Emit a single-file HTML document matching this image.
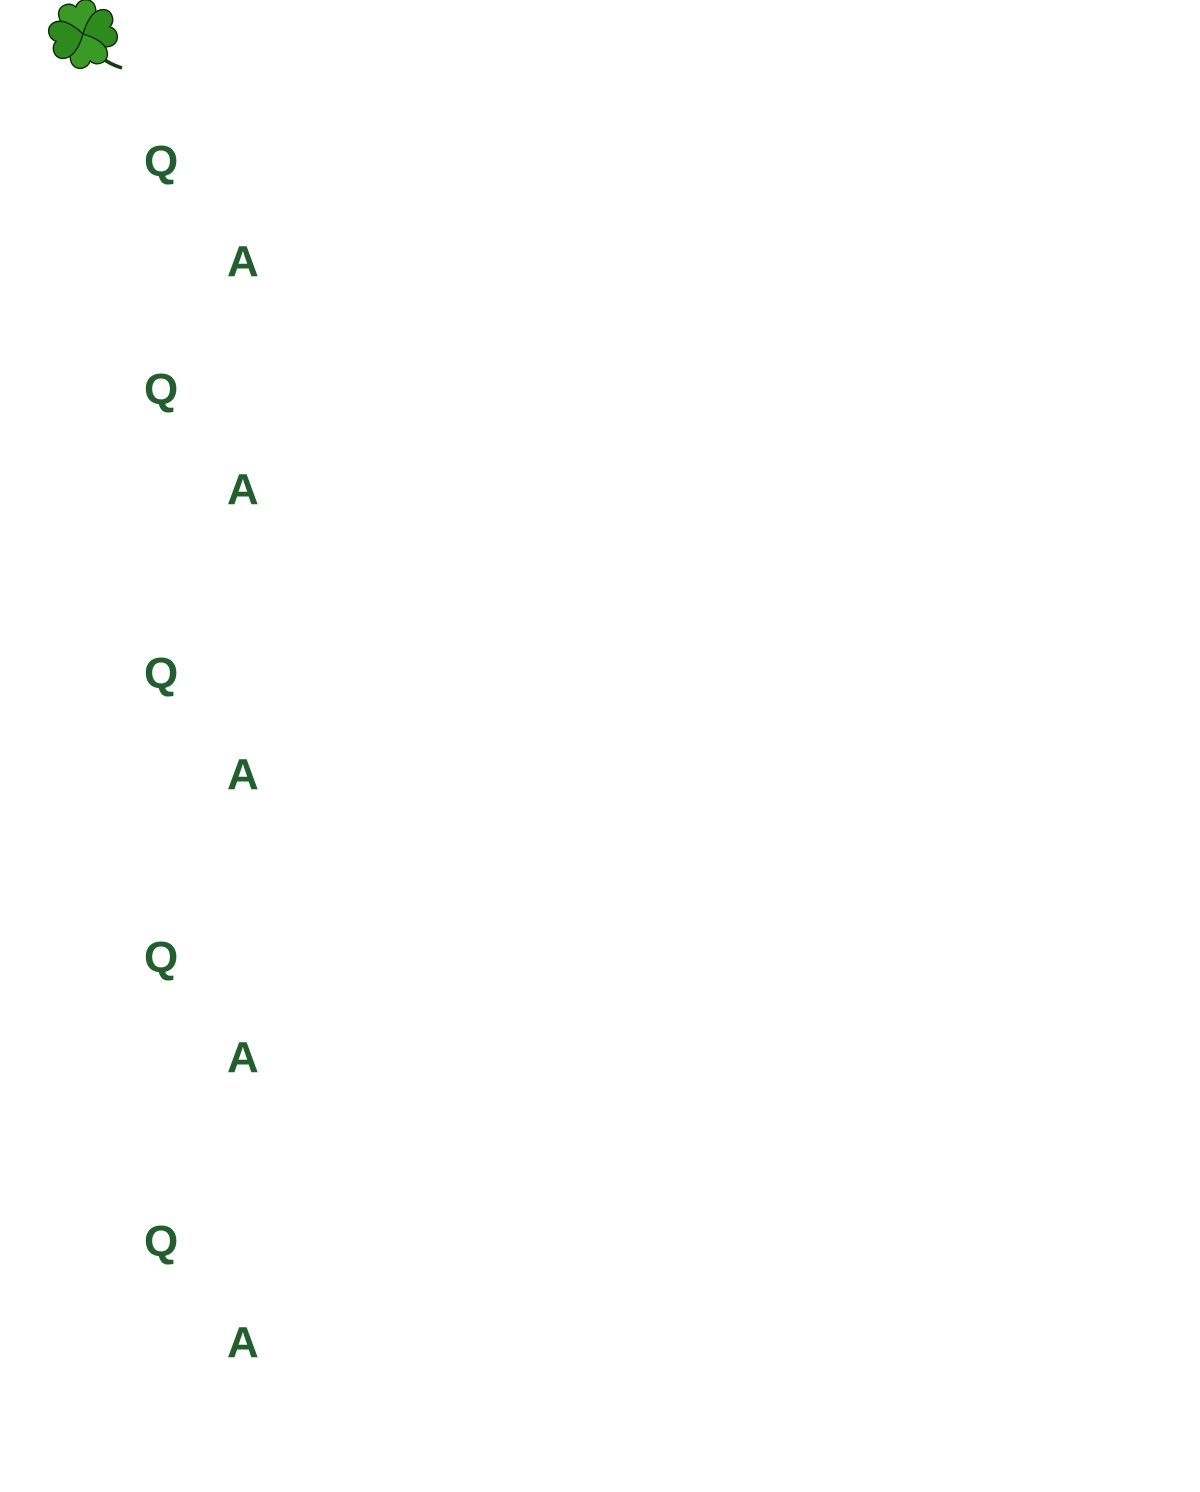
<!DOCTYPE html>
<html><head><meta charset="utf-8"><style>
html,body{margin:0;padding:0;background:#fff;width:1200px;height:1492px;overflow:hidden}
svg{display:block}
text{font-family:"Liberation Sans",Arial,Helvetica,sans-serif;font-weight:700;font-size:44px;fill:#235e2f}
</style></head><body>
<svg width="1200" height="1492" xmlns="http://www.w3.org/2000/svg">
<g stroke="#0c2a0c" stroke-width="1.4">
<path d="M86 38 Q96 60 122 68" fill="none" stroke="#123d12" stroke-width="3.5"/>
<g transform="translate(83,34)">
<g transform="rotate(-15)"><path d="M0 0 C-10 -6 -22 -16 -18 -27 C-15 -34 -5 -35 0 -28 C5 -35 15 -34 18 -27 C22 -16 10 -6 0 0Z" fill="#3a9a25"/></g>
<g transform="rotate(75)"><path d="M0 0 C-10 -6 -22 -16 -18 -27 C-15 -34 -5 -35 0 -28 C5 -35 15 -34 18 -27 C22 -16 10 -6 0 0Z" fill="#2f8a1e"/></g>
<g transform="rotate(165)"><path d="M0 0 C-10 -6 -22 -16 -18 -27 C-15 -34 -5 -35 0 -28 C5 -35 15 -34 18 -27 C22 -16 10 -6 0 0Z" fill="#3a9a25"/></g>
<g transform="rotate(255)"><path d="M0 0 C-10 -6 -22 -16 -18 -27 C-15 -34 -5 -35 0 -28 C5 -35 15 -34 18 -27 C22 -16 10 -6 0 0Z" fill="#2f8a1e"/></g>
</g></g>
<g>
<text x="144" y="176">Q</text><text x="227" y="276">A</text>
<text x="144" y="404">Q</text><text x="227" y="504">A</text>
<text x="144" y="688">Q</text><text x="227" y="789">A</text>
<text x="144" y="972">Q</text><text x="227" y="1072">A</text>
<text x="144" y="1256">Q</text><text x="227" y="1357">A</text>
</g>
</svg>
</body></html>
